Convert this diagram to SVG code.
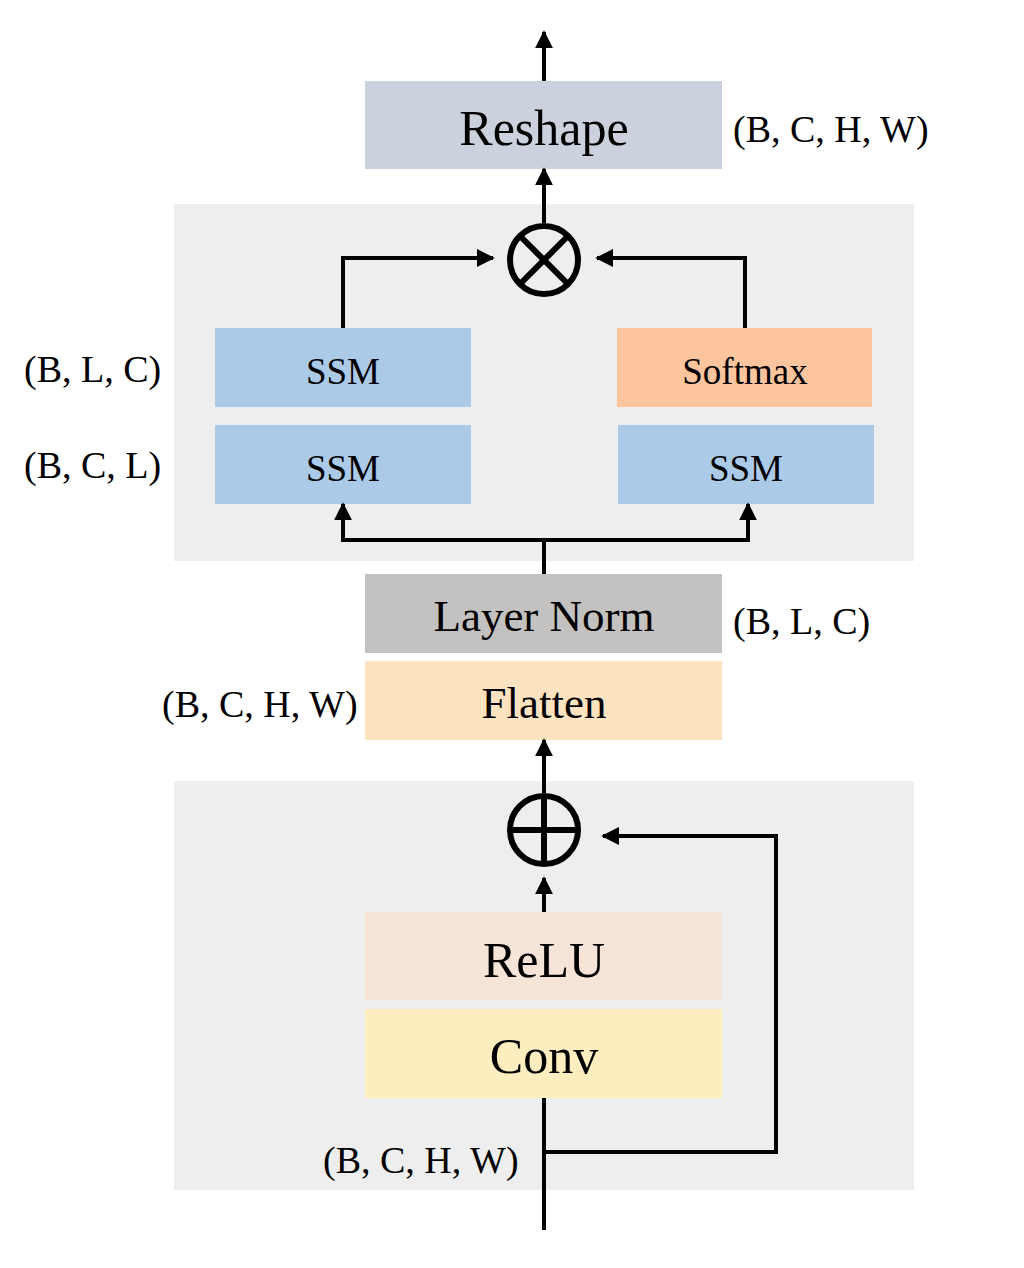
<svg xmlns="http://www.w3.org/2000/svg" width="1024" height="1268" viewBox="0 0 1024 1268">
<defs>
<marker id="ah" viewBox="0 0 10 10" refX="9" refY="5" markerWidth="4.5" markerHeight="4.5" markerUnits="strokeWidth" orient="auto">
<path d="M0,0 L10,5 L0,10 Z" fill="#000"/>
</marker>
</defs>
<style>
.t{font-family:"Liberation Serif","Times New Roman",serif;fill:#000;}
.lbl{font-size:38px;}
.big{font-size:50px;text-anchor:middle;}
.mid{font-size:45px;text-anchor:middle;}
.sm{font-size:37px;text-anchor:middle;}
.c{fill:none;stroke:#000;stroke-width:4;}
.op{fill:none;stroke:#000;stroke-width:6;}
</style>
<rect x="0" y="0" width="1024" height="1268" fill="#fff"/>
<g id="panel-top"><rect x="174" y="204" width="740" height="357" fill="#EEEEEE"/></g>
<g id="panel-bottom"><rect x="174" y="781" width="740" height="409" fill="#EEEEEE"/></g>

<g id="reshape"><rect x="365" y="81" width="357" height="88" fill="#CBD1DD"/><text class="t big" x="544" y="145">Reshape</text></g>
<g id="ssm1"><rect x="215" y="328" width="256" height="79" fill="#ABCAE8"/><text class="t sm" x="343" y="384">SSM</text></g>
<g id="softmax"><rect x="617" y="328" width="255" height="79" fill="#FDC59E"/><text class="t sm" x="745" y="384">Softmax</text></g>
<g id="ssm2"><rect x="215" y="425" width="256" height="79" fill="#ABCAE8"/><text class="t sm" x="343" y="481">SSM</text></g>
<g id="ssm3"><rect x="618" y="425" width="256" height="79" fill="#ABCAE8"/><text class="t sm" x="746" y="481">SSM</text></g>
<g id="layernorm"><rect x="365" y="574" width="357" height="79" fill="#C3C2C0"/><text class="t mid" x="544" y="631">Layer Norm</text></g>
<g id="flatten"><rect x="365" y="661" width="357" height="79" fill="#FEE3C0"/><text class="t mid" x="544" y="718">Flatten</text></g>
<g id="relu"><rect x="365" y="912" width="357" height="88" fill="#F6E4D8"/><text class="t big" x="544" y="977">ReLU</text></g>
<g id="conv"><rect x="365" y="1009" width="357" height="89" fill="#FEEDBE"/><text class="t big" x="544" y="1073">Conv</text></g>

<g id="mul">
<circle cx="544" cy="260" r="34" class="op"/>
<line x1="520" y1="236" x2="568" y2="284" class="op"/>
<line x1="568" y1="236" x2="520" y2="284" class="op"/>
</g>
<g id="add">
<circle cx="544" cy="830" r="34" class="op"/>
<line x1="510" y1="830" x2="578" y2="830" class="op"/>
<line x1="544" y1="796" x2="544" y2="864" class="op"/>
</g>

<g id="labels">
<text class="t lbl" x="733" y="142">(B, C, H, W)</text>
<text class="t lbl" x="24" y="382">(B, L, C)</text>
<text class="t lbl" x="24" y="478">(B, C, L)</text>
<text class="t lbl" x="733" y="634">(B, L, C)</text>
<text class="t lbl" x="162" y="717">(B, C, H, W)</text>
<text class="t lbl" x="323" y="1173">(B, C, H, W)</text>
</g>

<g id="connectors">
<line x1="544" y1="81" x2="544" y2="32" class="c" marker-end="url(#ah)"/>
<line x1="544" y1="223" x2="544" y2="169" class="c" marker-end="url(#ah)"/>
<polyline points="343,328 343,258 493,258" class="c" marker-end="url(#ah)"/>
<polyline points="745,328 745,258 597,258" class="c" marker-end="url(#ah)"/>
<line x1="544" y1="574" x2="544" y2="540" class="c"/>
<polyline points="544,540 343,540 343,504" class="c" marker-end="url(#ah)"/>
<polyline points="544,540 748,540 748,504" class="c" marker-end="url(#ah)"/>
<line x1="544" y1="793" x2="544" y2="740" class="c" marker-end="url(#ah)"/>
<line x1="544" y1="912" x2="544" y2="878" class="c" marker-end="url(#ah)"/>
<line x1="544" y1="1230" x2="544" y2="1098" class="c"/>
<polyline points="544,1152 776,1152 776,836 603,836" class="c" marker-end="url(#ah)"/>
</g>
</svg>
